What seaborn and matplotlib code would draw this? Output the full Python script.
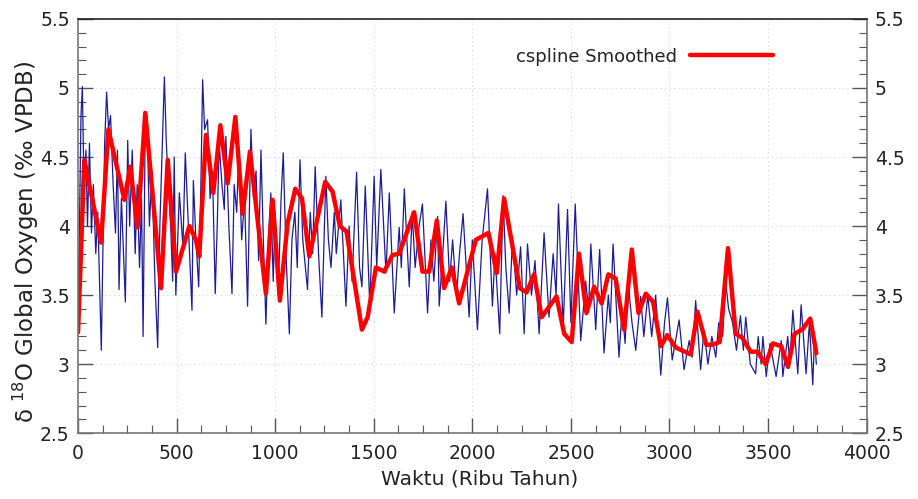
import matplotlib
matplotlib.use("Agg")
import matplotlib.pyplot as plt
import seaborn as sns
import pandas as pd
from matplotlib.ticker import MultipleLocator

# ---- data ----
blue_x = [0, 8, 15, 22, 30, 40, 48, 58, 68, 78, 90, 100, 118, 135, 145, 155, 165, 178, 190, 200,
          208, 220, 240, 252, 262, 275, 290, 300, 312, 322, 330, 340, 350, 362, 375, 390, 404, 415, 428, 438,
          448, 458, 470, 480, 488, 496,
          514, 532, 544, 560, 578, 585, 598, 612, 622, 632, 642, 657, 670, 682, 696, 706, 716, 730, 742, 750,
          765, 781, 792, 805, 815, 830, 845, 860, 877, 890, 903, 916, 928, 940, 953, 965, 978, 990, 1000,
          1015, 1030, 1041, 1055, 1072, 1085, 1100, 1112, 1126, 1140, 1164, 1178, 1190, 1203, 1220, 1237,
          1257, 1270, 1283, 1300, 1310, 1333, 1359, 1375, 1390, 1413, 1428, 1440, 1457, 1480, 1502,
          1515, 1536, 1562, 1579, 1604, 1629, 1640, 1655, 1680, 1695, 1710, 1730, 1747, 1773, 1790, 1805,
          1824, 1832, 1850, 1866, 1885, 1900, 1920, 1935, 1953, 1984, 2000,
          2026, 2050, 2077, 2102, 2115, 2139, 2156, 2170, 2187, 2204, 2225, 2245, 2263, 2280, 2300, 2318,
          2339, 2364, 2389, 2410, 2425, 2437, 2461, 2483, 2500, 2522,
          2550, 2575, 2590, 2601, 2626, 2646, 2668, 2690, 2700, 2714, 2744, 2760, 2775, 2790, 2810, 2829,
          2854, 2870, 2890, 2910, 2930, 2956, 2975, 2990, 3014,
          3049, 3074, 3100, 3115, 3133, 3158, 3175, 3195, 3215, 3235, 3250, 3270, 3285, 3300, 3320, 3340,
          3360, 3375, 3387, 3410, 3437, 3450, 3465, 3474, 3491, 3510, 3541, 3567, 3575, 3600, 3610, 3626,
          3651, 3668, 3693, 3710, 3727, 3736, 3745]
blue_y = [3.25, 4.1, 4.8, 5.01, 4.3, 4.55, 4.0, 4.6, 3.95, 4.3, 3.8, 4.1, 3.10, 4.6, 4.97, 4.7, 4.8, 4.3, 3.95, 4.55,
          3.54, 4.2, 3.45, 4.62, 4.0, 4.55, 3.8, 4.3, 3.7, 4.2, 3.2, 4.6, 4.8, 4.0, 4.4, 3.6, 3.12, 4.0, 4.6, 5.08,
          4.6, 4.3, 4.0, 3.6, 4.5, 3.5,
          4.24, 3.85, 4.53, 4.0, 3.39, 4.33, 3.9, 3.56, 4.2, 5.06, 4.7, 4.77, 4.2, 4.4, 3.51, 4.0, 4.60, 4.3, 4.12, 4.65,
          4.0, 3.51, 4.3, 4.1, 4.55, 3.9, 4.2, 3.42, 4.70, 4.2, 4.4, 3.75, 4.55, 3.9, 3.29, 3.9, 4.24, 3.6, 4.1,
          3.5, 4.2, 4.53, 3.8, 3.22, 3.9, 4.1, 3.7, 4.48, 3.9, 3.54, 4.1, 3.8, 4.43, 3.8, 3.34,
          4.36, 3.9, 3.70, 4.1, 3.8, 4.19, 3.42, 4.0, 3.6, 4.39, 3.7, 3.56, 4.29, 3.42, 4.36,
          3.7, 4.41, 3.66, 4.24, 3.37, 3.99, 3.7, 4.27, 3.56, 4.1, 3.7, 4.0, 4.16, 3.37, 3.9, 3.6,
          4.07, 3.42, 3.8, 4.18, 3.6, 3.9, 3.5, 3.8, 4.09, 3.34, 3.9,
          3.25, 3.9, 4.27, 3.42, 3.8, 3.22, 4.22, 3.7, 3.37, 3.92, 3.5, 3.85, 3.22, 3.87, 3.5, 3.75,
          3.22, 3.95, 3.34, 3.8, 3.5, 4.16, 3.27, 4.12, 3.3, 4.16,
          3.17, 3.6, 3.4, 3.87, 3.25, 3.83, 3.08, 3.5, 3.3, 3.87, 3.05, 3.4, 3.15, 3.6, 3.3, 3.10,
          3.49, 3.2, 3.5, 3.2, 3.50, 2.92, 3.3, 3.48, 3.03,
          3.32, 2.96, 3.17, 3.05, 3.46, 2.96, 3.25, 3.0, 3.2, 3.05, 3.3, 3.2, 3.6, 3.4, 3.3, 3.1,
          3.35, 3.1, 3.34, 3.0, 2.93, 3.2, 3.0, 3.20, 2.91, 3.15, 2.91, 3.17, 2.91, 3.2, 3.0, 3.39,
          2.93, 3.43, 2.93, 3.3, 2.85, 3.20, 3.0]

red_x = [0, 32, 117, 154, 235, 265, 302, 341, 421, 455,
         497, 565, 598, 615, 649, 686, 722, 759, 798, 835,
         872, 953, 987, 1024, 1063, 1102, 1136, 1173, 1254, 1291,
         1328, 1362, 1440, 1469, 1511, 1553, 1595, 1629, 1705, 1747,
         1781, 1820, 1857, 1896, 1933, 2018, 2082, 2124, 2161, 2241,
         2275, 2313, 2352, 2427, 2466, 2504, 2541, 2579, 2618, 2656,
         2690, 2727, 2770, 2809, 2843, 2880, 2917, 2956, 2989, 3032,
         3108, 3142, 3187, 3217, 3255, 3297, 3336, 3370, 3412, 3446,
         3488, 3525, 3567, 3601, 3635, 3674, 3714, 3745]
red_y = [3.23, 4.48, 3.88, 4.70, 4.19, 4.43, 3.99, 4.82, 3.55, 4.48,
         3.67, 4.00, 3.90, 3.78, 4.66, 4.24, 4.73, 4.31, 4.79, 4.09,
         4.54, 3.51, 4.19, 3.46, 4.02, 4.27, 4.20, 3.78, 4.32, 4.25,
         4.00, 3.96, 3.25, 3.34, 3.70, 3.67, 3.79, 3.80, 4.10, 3.67,
         3.67, 4.04, 3.55, 3.70, 3.44, 3.90, 3.95, 3.66, 4.20, 3.55,
         3.52, 3.65, 3.34, 3.49, 3.22, 3.16, 3.80, 3.37, 3.56, 3.44,
         3.65, 3.62, 3.25, 3.83, 3.37, 3.51, 3.45, 3.13, 3.21, 3.12,
         3.07, 3.38, 3.14, 3.14, 3.16, 3.84, 3.22, 3.19, 3.09, 3.09,
         3.00, 3.15, 3.13, 2.98, 3.22, 3.25, 3.33, 3.08]

legend_label = "cspline Smoothed"
x_label = "Waktu (Ribu Tahun)"
y_label = r"δ $^{18}$O Global Oxygen (‰ VPDB)"

# ---- plot ----
sns.set_style("ticks")
plt.rcParams["font.family"] = ["DejaVu Sans"]

fig = plt.figure(figsize=(9.18, 4.99), dpi=100)
ax = fig.add_axes([0.085, 0.132, 0.859, 0.830])

df_blue = pd.DataFrame({"x": blue_x, "y": blue_y})
df_red = pd.DataFrame({"x": red_x, "y": red_y})

sns.lineplot(data=df_blue, x="x", y="y", ax=ax, color="#1c1c96", linewidth=0.9,
             estimator=None, sort=False, legend=False)
sns.lineplot(data=df_red, x="x", y="y", ax=ax, color="#ff0000", linewidth=3.2,
             estimator=None, sort=False, label=legend_label)

ax.set_xlim(0, 4000)
ax.set_ylim(2.5, 5.5)
ax.xaxis.set_major_locator(MultipleLocator(500))
ax.xaxis.set_minor_locator(MultipleLocator(125))
ax.yaxis.set_major_locator(MultipleLocator(0.5))
ax.yaxis.set_minor_locator(MultipleLocator(0.1))
ax.yaxis.set_major_formatter(matplotlib.ticker.FuncFormatter(lambda v, p: f"{v:g}"))

ax.grid(True, which="major", linestyle=(0, (1, 3)), color="#d4d4d4", linewidth=0.8)

ax.tick_params(axis="both", which="both", direction="in", colors="#555555",
               labelcolor="#222222", labelsize=13.5)
ax.tick_params(axis="y", which="both", left=True, right=True, labelleft=True, labelright=True)
ax.tick_params(axis="x", which="both", bottom=True, top=False)
ax.tick_params(which="major", length=11, width=1.0)
ax.tick_params(which="minor", length=6, width=0.8)
ax.tick_params(axis="y", which="major", pad=6)
ax.tick_params(axis="x", which="major", pad=8)

for s in ["left", "bottom", "right"]:
    ax.spines[s].set_color("#777777")
    ax.spines[s].set_linewidth(1.2)
ax.spines["top"].set_color("#222222")
ax.spines["top"].set_linewidth(1.2)

ax.set_xlabel(x_label, fontsize=14.5, color="#222222")
ax.set_ylabel(y_label, fontsize=16.5, color="#222222")
ax.xaxis.set_label_coords(0.5095, -0.088)
ax.yaxis.set_label_coords(-0.047, 0.462)

leg = ax.legend(loc="upper right", bbox_to_anchor=(0.902, 0.97), frameon=False,
                markerfirst=False, handlelength=4.6, fontsize=13, handletextpad=0.7)
for t in leg.get_texts():
    t.set_color("#222222")

fig.savefig("out.png", dpi=100)
